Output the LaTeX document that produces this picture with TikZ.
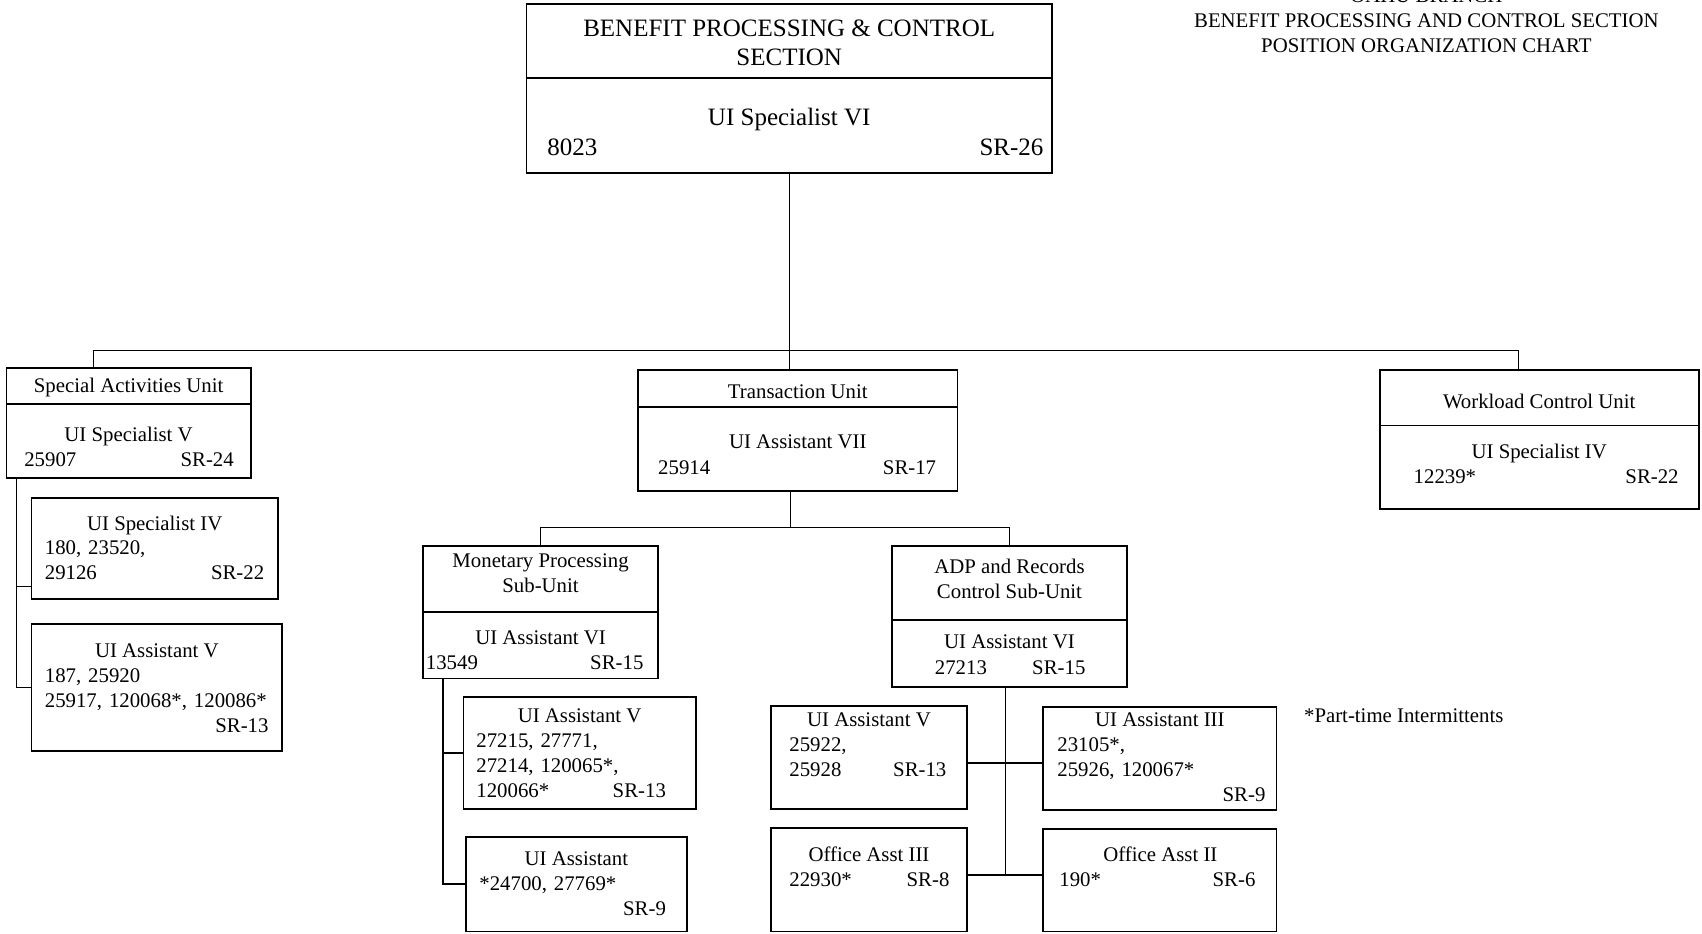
\documentclass[tikz,border=0pt]{standalone}
\usepackage{fontspec}
\setmainfont{Liberation Serif}
\usetikzlibrary{positioning, calc}
\newcommand\topboxfont{\fontsize{12.5pt}{14.65pt}\selectfont}
\tikzset{
  box/.style = {rectangle, draw, line width=0.9pt, inner sep=0pt, outer sep=0pt,
    anchor=north west},
  headtext/.style = {align=center, inner sep=0pt},
  poshead/.style = {anchor=base, inner sep=0pt},
  posline/.style = {anchor=base west, align=left, inner sep=0pt},
  link/.style = {line width=0.7pt},
}

\begin{document}
\begin{tikzpicture}[x=0.5pt, y=-0.5pt, font=\fontsize{10.4pt}{12.5pt}\selectfont]
  \useasboundingbox (0,0) rectangle (1702,933);

  % Chart title
  \node[align=center, inner sep=0pt] (chartTitle) at (1426.4,20.6)
    {OAHU BRANCH\\BENEFIT PROCESSING AND CONTROL SECTION\\POSITION ORGANIZATION CHART};

  % Section head
  \node[box, minimum width=262.7pt, minimum height=36.95pt] (topHead) at (526.5,4.3) {};
  \node[box, minimum width=262.7pt, minimum height=47.2pt, below=0pt of topHead] (top) {};
  \node[headtext, font=\topboxfont] (topName) at (789.2,42.5) {BENEFIT PROCESSING \& CONTROL\\SECTION};
  \node[poshead, font=\topboxfont] (topPos) at (789.2,125.5) {UI Specialist VI};
  \node[posline, text width=248pt, font=\topboxfont] (topNo) at (547,155.9) {8023\hfill SR-26};

  % Units
  \node[box, minimum width=122.15pt, minimum height=17.9pt] (sauHead) at (6.5,368) {};
  \node[box, minimum width=122.15pt, minimum height=36.9pt, below=0pt of sauHead] (sau) {};
  \node[poshead] (sauName) at (128.6,392.3) {Special Activities Unit};
  \node[poshead] (sauPos) at (128.6,441.1) {UI Specialist V};
  \node[posline, text width=104.75pt] (sauNo) at (23.9,466.1) {25907\hfill SR-24};

  \node[box, minimum width=159.55pt, minimum height=18.45pt] (tuHead) at (638.3,370.2) {};
  \node[box, minimum width=159.55pt, minimum height=41.75pt, below=0pt of tuHead] (tu) {};
  \node[poshead] (tuName) at (797.8,398.8) {Transaction Unit};
  \node[poshead] (tuPos) at (797.8,448.7) {UI Assistant VII};
  \node[posline, text width=138.95pt] (tuNo) at (657.8,474.8) {25914\hfill SR-17};

  \node[box, minimum width=159.55pt, minimum height=27.65pt] (wcuHead) at (1379.7,370.2) {};
  \node[box, minimum width=159.55pt, minimum height=41.8pt, below=0pt of wcuHead] (wcu) {};
  \node[poshead] (wcuName) at (1539.2,408.5) {Workload Control Unit};
  \node[poshead] (wcuPos) at (1539.2,458.5) {UI Specialist IV};
  \node[posline, text width=132.45pt] (wcuNo) at (1413.3,483.4) {12239*\hfill SR-22};

  % Special Activities positions
  \node[box, minimum width=123.2pt, minimum height=50.5pt] (saSpec) at (31.5,498.2) {};
  \node[poshead] (saSpecPos) at (154.7,530.1) {UI Specialist IV};
  \node[posline, text width=109.65pt] (saSpecNo) at (44.5,554) {180, 23520,\\29126\hfill SR-22};

  \node[box, minimum width=125.35pt, minimum height=63.5pt] (saAsst) at (31.5,624.2) {};
  \node[poshead] (saAsstPos) at (156.85,657.1) {UI Assistant V};
  \node[posline, text width=111.8pt] (saAsstNo) at (44.5,682.1)
    {187, 25920\\25917, 120068*, 120086*\\\hspace*{\fill}SR-13};

  % Sub-units
  \node[box, minimum width=117.25pt, minimum height=33.1pt] (mpsuHead) at (423.3,546) {};
  \node[box, minimum width=117.25pt, minimum height=33.1pt, below=0pt of mpsuHead] (mpsu) {};
  \node[headtext] (mpsuName) at (540.55,573.7) {Monetary Processing\\Sub-Unit};
  \node[poshead] (mpsuPos) at (540.55,644.1) {UI Assistant VI};
  \node[posline, text width=108.75pt] (mpsuNo) at (425.5,669.1) {13549\hfill SR-15};

  \node[box, minimum width=117.2pt, minimum height=36.9pt] (adpHead) at (892.3,546) {};
  \node[box, minimum width=117.2pt, minimum height=33.65pt, below=0pt of adpHead] (adp) {};
  \node[headtext] (adpName) at (1009.5,579.1) {ADP and Records\\Control Sub-Unit};
  \node[poshead] (adpPos) at (1009.5,648.4) {UI Assistant VI};
  \node[posline, text width=75.25pt] (adpNo) at (934.5,674.5) {27213\hfill SR-15};

  % Monetary Processing positions
  \node[box, minimum width=116.15pt, minimum height=55.9pt] (mpAsstV) at (463.5,696.9) {};
  \node[poshead] (mpAsstVPos) at (579.65,722.2) {UI Assistant V};
  \node[posline, text width=94.75pt] (mpAsstVNo) at (476,747.2)
    {27215, 27771,\\27214, 120065*,\\120066*\hfill SR-13};

  \node[box, minimum width=110.7pt, minimum height=47.25pt] (mpAsst) at (465.7,836.9) {};
  \node[poshead] (mpAsstPos) at (576.4,865.5) {UI Assistant};
  \node[posline, text width=93.25pt] (mpAsstNo) at (479,890.5) {*24700, 27769*\\\hspace*{\fill}SR-9};

  % ADP and Records positions
  \node[box, minimum width=98.25pt, minimum height=51.55pt] (adAsstV) at (770.7,705.6) {};
  \node[poshead] (adAsstVPos) at (868.95,726.6) {UI Assistant V};
  \node[posline, text width=78.5pt] (adAsstVNo) at (789,751.6) {25922,\\25928\hfill SR-13};

  \node[box, minimum width=116.65pt, minimum height=51.55pt] (adAsstIII) at (1043.2,706.7) {};
  \node[poshead] (adAsstIIIPos) at (1159.85,726.6) {UI Assistant III};
  \node[posline, text width=104pt] (adAsstIIINo) at (1057,751.6) {23105*,\\25926, 120067*\\\hspace*{\fill}SR-9};

  \node[box, minimum width=98.25pt, minimum height=51.6pt] (adOffIII) at (770.7,828.2) {};
  \node[poshead] (adOffIIIPos) at (868.95,861.2) {Office Asst III};
  \node[posline, text width=80pt] (adOffIIINo) at (789,886.2) {22930*\hfill SR-8};

  \node[box, minimum width=116.65pt, minimum height=51.05pt] (adOffII) at (1043.2,829.3) {};
  \node[poshead] (adOffIIPos) at (1160.4,861.2) {Office Asst II};
  \node[posline, text width=98pt] (adOffIINo) at (1059,886.2) {190*\hfill SR-6};

  % Footnote
  \node[anchor=base west, inner sep=0pt] (ptNote) at (1303.7,722.2) {*Part-time Intermittents};

  % Section to units
  \coordinate (busL) at (93.4,350.6);
  \coordinate (busR) at (1518.6,350.6);
  \draw[link] (top.south) -- (top.south |- tuHead.north);
  \draw[link] (busL |- sauHead.north) -- (busL) -- (busR) -- (busR |- wcuHead.north);

  % Transaction Unit to sub-units
  \coordinate (tuBus) at (790.2,527.6);
  \draw[link] (tuBus |- tu.south) -- (tuBus);
  \draw[link] (mpsuHead.north) |- (tuBus) -| (adpHead.north);

  % Special Activities positions
  \coordinate (saSpine) at (16.3,0);
  \coordinate (saSpecIn) at ([yshift=6.5pt]saSpec.south west);
  \draw[link] (saSpine |- sau.south) |- (saAsst.west);
  \draw[link] (saSpine |- saSpecIn) -- (saSpecIn);

  % Monetary Processing positions
  \coordinate (mpSpine) at (442.9,0);
  \draw[link] (mpSpine |- mpsu.south) |- (mpAsst.west);
  \draw[link] (mpSpine |- mpAsstV.west) -- (mpAsstV.west);

  % ADP and Records positions
  \coordinate (adSpine) at (1005.2,0);
  \coordinate (adRowA) at ([yshift=-3pt]adAsstV.east);
  \coordinate (adRowB) at ([yshift=2.5pt]adOffIII.east);
  \draw[link] (adSpine |- adp.south) -- (adSpine |- adRowB);
  \draw[link] (adRowA) -- (adRowA -| adAsstIII.west);
  \draw[link] (adRowB) -- (adRowB -| adOffII.west);

\end{tikzpicture}
\end{document}
